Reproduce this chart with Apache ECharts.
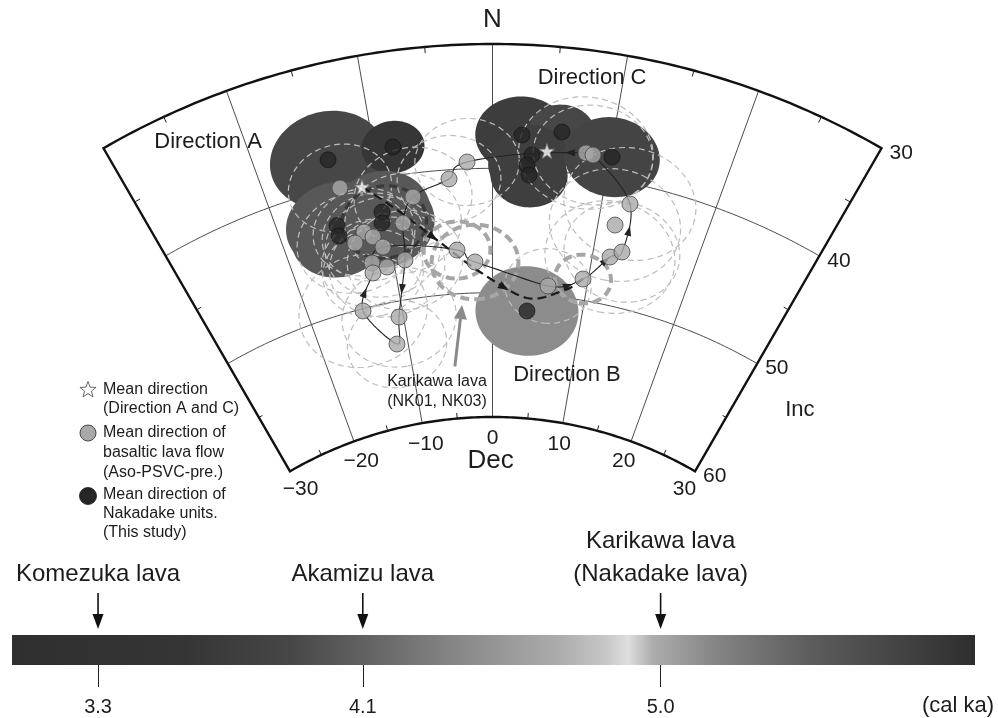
<!DOCTYPE html>
<html><head><meta charset="utf-8"><title>Paleomagnetic directions</title>
<script src="https://cdn.jsdelivr.net/npm/echarts@6.0.0/dist/echarts.min.js"></script>
<style>html,body{margin:0;padding:0;background:#fff;}#chart{width:998px;height:718px;}</style>
</head><body><div id="chart"></div>
<script>
// ================= DATA =================
const decTicks = [-30, -20, -10, 0, 10, 20, 30];
const incTicks = [30, 40, 50, 60];
const decMinorTicks = [-25, -15, -5, 5, 15, 25];
const incMinorTicks = [35, 45, 55];

// Mean directions of Nakadake units (this study) with alpha95
const nakDec = [-13.95, -8.39, 2.46, 5.75, 3.39, 3.0, 3.23, 10.19, -14.62, -14.68, -10.27, -10.45, 3.86];
const nakInc = [37.7, 37.7, 37.27, 36.8, 38.83, 39.66, 40.46, 38.24, 43.0, 43.85, 42.72, 43.58, 51.38];
const nakA95 = [3.9, 2.1, 3.1, 2.2, 2.4, 2.6, 2.6, 3.2, 3.5, 3.3, 3.3, 3.6, 3.6];

// Mean direction (Direction A, Direction C)
const meanDec = [-11.61, 4.64];
const meanInc = [40.43, 38.43];

// Aso-PSVC-pre. basaltic lava flows
const psvcDec = [-2.21, -3.87, -7.25, -13.53, -8.5, -12.29, -11.54, -13.36, -10.78, -12.16, -10.76, -12.28, -8.85,
                 -3.55, -1.79, -14.22, -10.49, -11.3, 5.91, 9.46, 11.75, 12.8, 11.6, 12.54, 7.96, 8.57];
const psvcInc = [39.45, 40.74, 41.9, 40.13, 43.87, 44.01, 44.55, 44.71, 45.5, 46.58, 47.14, 47.38, 46.83,
                 46.48, 47.51, 50.17, 51.27, 53.37, 49.23, 48.3, 46.16, 45.56, 43.56, 41.65, 38.24, 38.32];
const psvcA95 = [3.5, 3.5, 4.0, 3.5, 4.0, 3.5, 3.5, 4.0, 4.0, 3.5, 4.0, 3.5, 4.0,
                 2.3, 3.0, 4.5, 4.0, 3.5, 3.0, 1.95, 4.5, 4.0, 4.5, 4.5, 4.5, 4.0];
const karikawaIdx = [13, 14, 19];

// thick dark dashed confidence ring
const ringDec = [-10.25];
const ringInc = [43.54];
const ringA95 = [2.9];

// PSV path (order of Aso-PSVC-pre. points) and arrows [segment, fraction]
const psvcPath = [24, 0, 1, 2, 4, 12, 16, 17, 15, 11, 9, 8, 13, 14, 18, 19, 20, 21, 23, 25, 24];
const psvcArrows = [[0, 0.18], [5, 0.5], [8, 0.45], [14, 0.5], [15, 0.8], [17, 0.5]];
// Nakadake path (dashed)
const nakPathDec = [-11.61, -8.62, -5.45, -1.30, 3.77, 7.76, 9.46];
const nakPathInc = [40.43, 42.95, 45.56, 48.33, 50.34, 49.39, 48.3];
const nakArrows = [[1, 0.9], [3, 0.5]];

// annotations
const annText = ['N', 'Dec', 'Inc', 'Direction A', 'Direction B', 'Direction C', 'Karikawa lava', '(NK01, NK03)'];
const annDec  = [0, -0.3, 36.7, -22.7, 9.46, 7.62, -7.19, -7.53];
const annInc  = [28.07, 63.5, 51.2, 33.29, 56.12, 32.2, 56.9, 58.5];
const karArrowDec = [-4.72, -3.37];
const karArrowInc = [55.8, 50.92];

// time bar
const barRange = [3.04, 5.95];
const ageTicks = [3.3, 4.1, 5.0];
const lavaNames = ['Komezuka lava', 'Akamizu lava', 'Karikawa lava\n(Nakadake lava)'];
const lavaAges = [3.3, 4.1, 5.0];

// ================= STYLE =================
const FONT = "'Liberation Sans', Arial, Helvetica, sans-serif";
const TXT = '#1c1c1c';
const nakFill = ['#474747', '#363636', '#3d3d3d', '#474747', '#3f3f3f', '#3f3f3f', '#3f3f3f', '#444444',
                 '#585858', '#585858', '#585858', '#585858', '#8c8c8c'];
const annSize = [26, 26, 22, 22, 22, 22, 16, 16];
const STAR = 'path://M50 0L61.76 33.82L97.55 34.55L69.02 56.18L79.39 90.45L50 70L20.61 90.45L30.98 56.18L2.45 34.55L38.24 33.82Z';
const RAD = Math.PI / 180;

function xy(p) { return [p[0], p[1]]; }

function smallCircle(api, dec, inc, a) {
  const D = dec * RAD, I = inc * RAD, A = a * RAD;
  const v = [Math.cos(I) * Math.cos(D), Math.cos(I) * Math.sin(D), Math.sin(I)];
  const e1 = [-Math.sin(I) * Math.cos(D), -Math.sin(I) * Math.sin(D), Math.cos(I)];
  const e2 = [-Math.sin(D), Math.cos(D), 0];
  const pts = [];
  for (let k = 0; k < 90; k++) {
    const f = k / 90 * 2 * Math.PI, c = Math.cos(f), s = Math.sin(f);
    const p = [0, 1, 2].map(j => Math.cos(A) * v[j] + Math.sin(A) * (c * e1[j] + s * e2[j]));
    const i2 = Math.asin(Math.max(-1, Math.min(1, p[2]))) / RAD;
    const d2 = Math.atan2(p[1], p[0]) / RAD;
    pts.push(xy(api.coord([i2, d2])));
  }
  return pts;
}

function crPoint(P, i, t, closed) {
  const n = P.length;
  const get = k => {
    if (closed) { const m = n - 1; return P[((k % m) + m) % m]; }
    return P[Math.max(0, Math.min(n - 1, k))];
  };
  const p0 = get(i - 1), p1 = get(i), p2 = get(i + 1), p3 = get(i + 2);
  const t2 = t * t, t3 = t2 * t;
  return [0, 1].map(j => 0.5 * ((2 * p1[j]) + (-p0[j] + p2[j]) * t +
    (2 * p0[j] - 5 * p1[j] + 4 * p2[j] - p3[j]) * t2 + (-p0[j] + 3 * p1[j] - 3 * p2[j] + p3[j]) * t3));
}

function pathPoints(api, P, closed) {
  const out = [];
  for (let i = 0; i < P.length - 1; i++) {
    for (let s = 0; s < 16; s++) {
      const q = crPoint(P, i, s / 16, closed);
      out.push(xy(api.coord([q[1], q[0]])));
    }
  }
  const last = P[P.length - 1];
  out.push(xy(api.coord([last[1], last[0]])));
  return out;
}

function arrowHead(api, P, i, t, closed, L, W, color) {
  const t2 = Math.min(t + 0.03, 1), t1 = t2 - 0.03;
  const a = crPoint(P, i, t1, closed), b = crPoint(P, i, t2, closed);
  const pa = api.coord([a[1], a[0]]), pb = api.coord([b[1], b[0]]);
  let dx = pb[0] - pa[0], dy = pb[1] - pa[1];
  const len = Math.hypot(dx, dy) || 1; dx /= len; dy /= len;
  const tip = [pa[0] + dx * L / 2, pa[1] + dy * L / 2];
  const base = [pa[0] - dx * L / 2, pa[1] - dy * L / 2];
  return { type: 'polygon', shape: { points: [tip, [base[0] - dy * W / 2, base[1] + dx * W / 2], [base[0] + dy * W / 2, base[1] - dx * W / 2]] },
           style: { fill: color, stroke: null } };
}

function starPoints(cx, cy, R, r) {
  const pts = [];
  for (let k = 0; k < 10; k++) {
    const ang = (-90 + k * 36) * RAD, rr = k % 2 ? r : R;
    pts.push([cx + rr * Math.cos(ang), cy + rr * Math.sin(ang)]);
  }
  return pts;
}

// ================= SERIES =================
const frameSeries = {
  type: 'custom', coordinateSystem: 'polar', polarIndex: 0, silent: true,
  data: [[45, 0]],
  renderItem: function (params, api) {
    const ch = [];
    const arc = inc => { const pts = []; for (let d = -30; d <= 30.0001; d += 0.5) pts.push(xy(api.coord([inc, d]))); return pts; };
    incTicks.slice(1, -1).forEach(i => ch.push({ type: 'polyline', shape: { points: arc(i) }, style: { stroke: '#4d4d4d', lineWidth: 1, fill: null } }));
    const bpts = arc(incTicks[0]).concat(arc(incTicks[incTicks.length - 1]).reverse());
    ch.push({ type: 'polygon', shape: { points: bpts }, style: { stroke: '#111', lineWidth: 2.4, fill: 'none', lineJoin: 'miter' } });
    const seg = (p, q) => ({ type: 'line', shape: { x1: p[0], y1: p[1], x2: q[0], y2: q[1] }, style: { stroke: '#222', lineWidth: 1 } });
    decMinorTicks.forEach(d => {
      ch.push(seg(api.coord([30, d]), api.coord([30.5, d])));
      ch.push(seg(api.coord([60, d]), api.coord([59.55, d])));
    });
    incMinorTicks.forEach(i => {
      ch.push(seg(api.coord([i, -30]), api.coord([i, -29.5])));
      ch.push(seg(api.coord([i, 30]), api.coord([i, 29.5])));
    });
    return { type: 'group', children: ch };
  }
};

function circleSeries(dec, inc, a95, idxList, styleFn) {
  return {
    type: 'custom', coordinateSystem: 'polar', polarIndex: 0, silent: true,
    data: idxList.map(k => [inc[k], dec[k], a95[k], k]),
    renderItem: function (params, api) {
      const k = api.value(3);
      return { type: 'polygon', shape: { points: smallCircle(api, api.value(1), api.value(0), api.value(2)) }, style: styleFn(k) };
    }
  };
}

const allNak = nakDec.map((_, k) => k);
const thinPsvc = psvcDec.map((_, k) => k).filter(k => karikawaIdx.indexOf(k) < 0);

const psvcP = psvcPath.map(k => [psvcDec[k], psvcInc[k]]);
const nakP = nakPathDec.map((d, k) => [d, nakPathInc[k]]);

const series = [
  frameSeries,
  circleSeries(nakDec, nakInc, nakA95, allNak, k => ({ fill: nakFill[k], stroke: null })),
  circleSeries(psvcDec, psvcInc, psvcA95, thinPsvc, k => ({ fill: 'none', stroke: '#bdbdbd', lineWidth: 1.2, lineDash: [6, 4] })),
  circleSeries(ringDec, ringInc, ringA95, [0], k => ({ fill: 'none', stroke: '#3a3a3a', lineWidth: 3.2, lineDash: [8, 5] })),
  circleSeries(psvcDec, psvcInc, psvcA95, karikawaIdx, k => ({ fill: 'none', stroke: '#a6a6a6', lineWidth: 4, lineDash: [9, 5] })),
  {
    type: 'custom', coordinateSystem: 'polar', polarIndex: 0, silent: true, data: [[45, 0]],
    renderItem: function (params, api) {
      const ch = [{ type: 'polyline', shape: { points: pathPoints(api, psvcP, true) }, style: { stroke: '#222', lineWidth: 1.1, fill: null } }];
      psvcArrows.forEach(a => ch.push(arrowHead(api, psvcP, a[0], a[1], true, 10, 7, '#222')));
      ch.push({ type: 'polyline', shape: { points: pathPoints(api, nakP, false) }, style: { stroke: '#1a1a1a', lineWidth: 2.2, lineDash: [9, 5], fill: null } });
      nakArrows.forEach(a => ch.push(arrowHead(api, nakP, a[0], a[1], false, 11, 8, '#1a1a1a')));
      // Karikawa pointer arrow
      const p0 = api.coord([karArrowInc[0], karArrowDec[0]]), p1 = api.coord([karArrowInc[1], karArrowDec[1]]);
      let dx = p1[0] - p0[0], dy = p1[1] - p0[1]; const len = Math.hypot(dx, dy); dx /= len; dy /= len;
      const hb = [p1[0] - dx * 14, p1[1] - dy * 14];
      ch.push({ type: 'line', shape: { x1: p0[0], y1: p0[1], x2: hb[0], y2: hb[1] }, style: { stroke: '#8a8a8a', lineWidth: 3 } });
      ch.push({ type: 'polygon', shape: { points: [[p1[0], p1[1]], [hb[0] - dy * 6.5, hb[1] + dx * 6.5], [hb[0] + dy * 6.5, hb[1] - dx * 6.5]] }, style: { fill: '#8a8a8a' } });
      return { type: 'group', children: ch };
    }
  },
  {
    type: 'scatter', coordinateSystem: 'polar', polarIndex: 0, silent: true, clip: false,
    symbol: 'circle', symbolSize: 16,
    itemStyle: { color: '#a9a9a9', borderColor: '#4a4a4a', borderWidth: 1 },
    data: psvcDec.map((d, k) => [psvcInc[k], d])
  },
  {
    type: 'scatter', coordinateSystem: 'polar', polarIndex: 0, silent: true, clip: false,
    symbol: 'circle', symbolSize: 16,
    itemStyle: { color: '#262626', borderColor: '#111', borderWidth: 0.8 },
    data: nakDec.map((d, k) => [nakInc[k], d])
  },
  {
    type: 'scatter', coordinateSystem: 'polar', polarIndex: 0, silent: true, clip: false,
    symbol: STAR, symbolSize: 15,
    itemStyle: { color: '#ffffff', borderColor: '#777', borderWidth: 1 },
    data: meanDec.map((d, k) => [meanInc[k], d])
  },
  {
    type: 'custom', coordinateSystem: 'polar', polarIndex: 0, silent: true,
    data: annText.map((t, k) => [annInc[k], annDec[k], k]),
    renderItem: function (params, api) {
      const k = api.value(2), p = api.coord([api.value(0), api.value(1)]);
      return { type: 'text', x: p[0], y: p[1], style: { text: annText[k], fontSize: annSize[k], fontFamily: FONT, fill: TXT, align: 'center', verticalAlign: 'middle' } };
    }
  },
  {
    type: 'custom', coordinateSystem: 'polar', polarIndex: 0, silent: true,
    data: decTicks.map(d => [45, d]),
    renderItem: function (params, api) {
      const d = api.value(1), p = api.coord([61.7, d]);
      return { type: 'text', x: p[0], y: p[1], style: { text: (d < 0 ? '\u2212' + Math.abs(d) : String(d)), fontSize: 21, fontFamily: FONT, fill: TXT, align: 'center', verticalAlign: 'middle' } };
    }
  },
  {
    type: 'custom', coordinateSystem: 'polar', polarIndex: 0, silent: true,
    data: incTicks.map(i => [i, 30]),
    renderItem: function (params, api) {
      const i = api.value(0), p = api.coord([i, 30]);
      return { type: 'text', x: p[0] + 8, y: p[1] + 5, style: { text: String(i), fontSize: 21, fontFamily: FONT, fill: TXT, align: 'left', verticalAlign: 'middle' } };
    }
  },
  // time bar
  {
    type: 'custom', coordinateSystem: 'cartesian2d', xAxisIndex: 0, yAxisIndex: 0, silent: true,
    data: [[barRange[0], barRange[1]]],
    renderItem: function (params, api) {
      const a = api.coord([api.value(0), 1]), b = api.coord([api.value(1), 0]);
      return { type: 'rect', shape: { x: a[0], y: a[1], width: b[0] - a[0], height: b[1] - a[1] },
        style: { fill: new echarts.graphic.LinearGradient(0, 0, 1, 0, [
          { offset: 0, color: '#2f2f2f' }, { offset: 0.18, color: '#353535' }, { offset: 0.29, color: '#474747' },
          { offset: 0.37, color: '#636363' }, { offset: 0.47, color: '#8a8a8a' }, { offset: 0.57, color: '#adadad' },
          { offset: 0.615, color: '#c6c6c6' }, { offset: 0.64, color: '#dedede' }, { offset: 0.665, color: '#adadad' },
          { offset: 0.73, color: '#858585' }, { offset: 0.83, color: '#5c5c5c' }, { offset: 0.93, color: '#414141' },
          { offset: 1, color: '#2e2e2e' }]) } };
    }
  },
  {
    type: 'custom', coordinateSystem: 'cartesian2d', xAxisIndex: 0, yAxisIndex: 0, silent: true,
    data: lavaAges.map((a, k) => [a, 1, k]),
    renderItem: function (params, api) {
      const k = api.value(2), p = api.coord([api.value(0), 1]);
      const ch = [];
      ch.push({ type: 'line', shape: { x1: p[0], y1: p[1] - 42, x2: p[0], y2: p[1] - 18 }, style: { stroke: '#111', lineWidth: 1.6 } });
      ch.push({ type: 'polygon', shape: { points: [[p[0], p[1] - 6], [p[0] - 5.5, p[1] - 21], [p[0] + 5.5, p[1] - 21]] }, style: { fill: '#111' } });
      const lines = lavaNames[k].split('\n').reverse();
      lines.forEach((ln, j) => ch.push({ type: 'text', x: p[0], y: p[1] - 61 - 33 * j,
        style: { text: ln, fontSize: 24, fontFamily: FONT, fill: TXT, align: 'center', verticalAlign: 'middle' } }));
      return { type: 'group', children: ch };
    }
  }
];

// ================= LEGEND (graphic) =================
const legendLines = [
  ['Mean direction', 390], ['(Direction A and C)', 408.5],
  ['Mean direction of', 433], ['basaltic lava flow', 453], ['(Aso-PSVC-pre.)', 473],
  ['Mean direction of', 495], ['Nakadake units.', 514], ['(This study)', 533]
];
const graphic = [
  { type: 'polygon', shape: { points: starPoints(88, 390, 8.5, 3.6) }, style: { fill: '#fff', stroke: '#666', lineWidth: 1 } },
  { type: 'circle', shape: { cx: 88, cy: 433, r: 8 }, style: { fill: '#a9a9a9', stroke: '#4a4a4a', lineWidth: 1 } },
  { type: 'circle', shape: { cx: 88, cy: 496, r: 8.5 }, style: { fill: '#262626', stroke: '#111', lineWidth: 0.8 } }
].concat(legendLines.map(l => ({ type: 'text', x: 103, y: l[1],
  style: { text: l[0], fontSize: 16, fontFamily: FONT, fill: TXT, align: 'left', verticalAlign: 'middle', textAlign: 'left', textVerticalAlign: 'middle' } })))
 .concat([{ type: 'text', x: 994, y: 706, style: { text: '(cal ka)', fontSize: 22, fontFamily: FONT, fill: TXT, align: 'right', verticalAlign: 'middle', textAlign: 'right', textVerticalAlign: 'middle' } }]);

const option = {
  animation: false,
  backgroundColor: '#ffffff',
  textStyle: { fontFamily: FONT },
  polar: { center: [492.5, 822], radius: [405, 778] },
  angleAxis: {
    type: 'value', min: -30, max: 30, interval: 10, startAngle: 120, endAngle: 60, clockwise: true,
    axisLine: { show: false }, axisTick: { show: false }, axisLabel: { show: false },
    splitLine: { show: true, lineStyle: { color: '#4d4d4d', width: 1 } }
  },
  radiusAxis: {
    type: 'value', min: 30, max: 60, interval: 10, inverse: true,
    axisLine: { show: false }, axisTick: { show: false }, axisLabel: { show: false }, splitLine: { show: false }
  },
  grid: { left: 12, top: 635, width: 963, height: 30 },
  xAxis: {
    type: 'value', min: barRange[0], max: barRange[1],
    axisLine: { show: false }, splitLine: { show: false },
    axisTick: { show: true, customValues: ageTicks, length: 22, lineStyle: { color: '#222', width: 1 } },
    axisLabel: { show: true, customValues: ageTicks, margin: 32, fontSize: 20, color: TXT, fontFamily: FONT, formatter: v => v.toFixed(1) }
  },
  yAxis: { type: 'value', min: 0, max: 1, show: false },
  graphic: graphic,
  series: series
};

const chart = echarts.init(document.getElementById('chart'), null, { renderer: 'canvas' });
chart.setOption(option);
</script>
</body></html>
